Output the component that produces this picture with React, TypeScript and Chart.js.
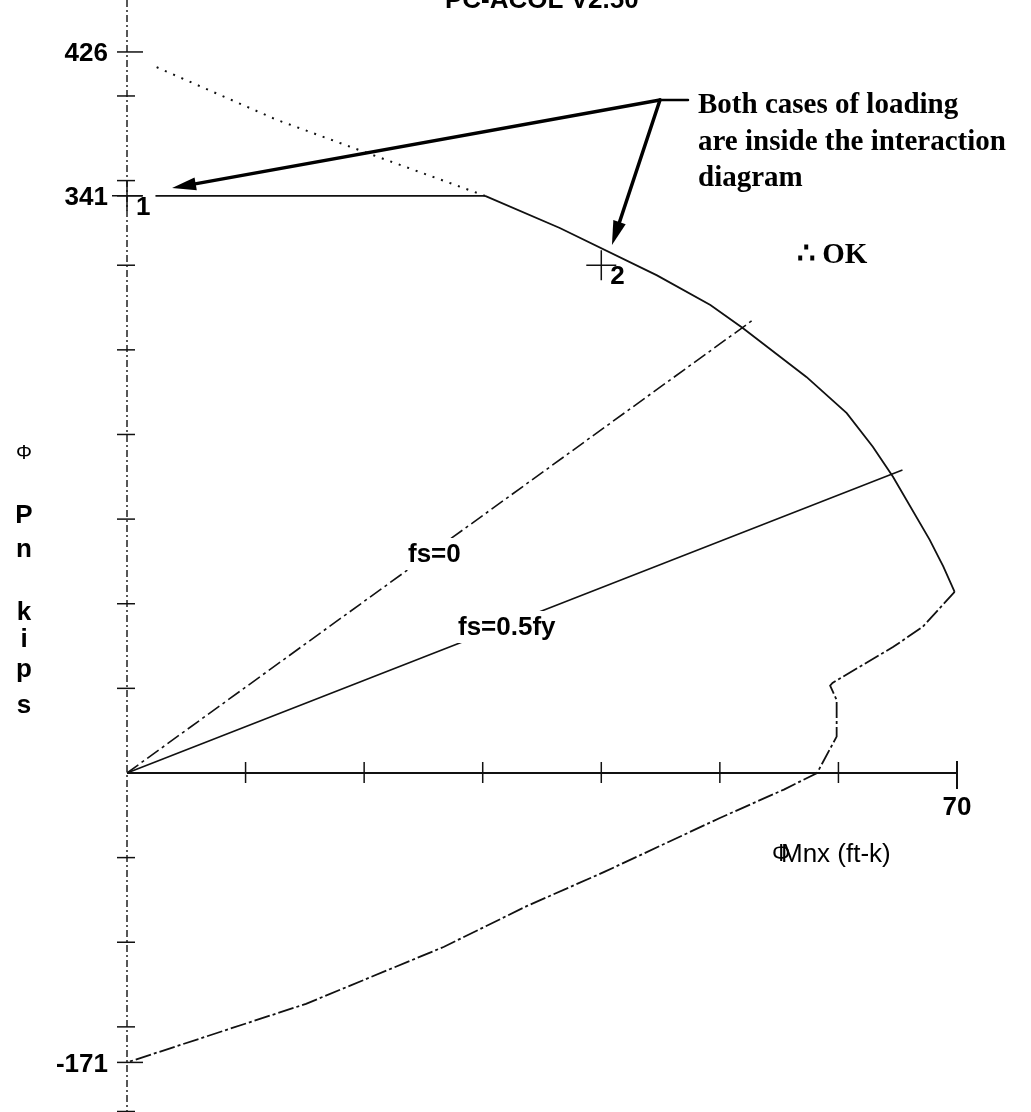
import React, { useEffect, useRef } from "react";
import { Chart, registerables } from "chart.js";

Chart.register(...registerables);

// ---------------- data ----------------
const titleText = "PC-ACOL V2.50";

// dotted Pn,max transition line
const capDottedM = [2.5, 12.6, 19.6, 30.2];
const capDottedP = [417, 386, 368, 341];
// horizontal Pn,max cap
const capLineM = [2.4, 30.2];
const capLineP = [341, 341];
// interaction diagram, upper (compression) branch
const curveUpperM = [30.2, 36.5, 44.7, 49.2, 51.9, 57.3, 60.7, 62.9, 64.6, 67.7, 68.85, 69.8];
const curveUpperP = [341, 322, 294, 276.5, 263, 234, 212.6, 192.8, 175, 137.7, 121.9, 107];
// interaction diagram, lower branch (to pure tension)
const curveLowerM = [69.8, 67.1, 64.6, 59.5, 59.3, 59.85, 59.85, 58.2, 55.4, 50.0, 40.3, 33.7, 26.7, 15.1, 0];
const curveLowerP = [107, 86.3, 74.4, 53.2, 51.6, 43.1, 21.5, 0, -9.8, -26.6, -58.3, -78.7, -102.8, -136.4, -171];
// strain lines
const fs0M = [0, 52.9];
const fs0P = [0, 268.2];
const fs05M = [0, 65.4];
const fs05P = [0, 179];
// load cases
const loadM = [0, 40];
const loadP = [341, 300];
const loadLabels = ["1", "2"];

// axes
const xTicks = [10, 20, 30, 40, 50, 60];
const xLabeledTicks = [70];
const xLabeledText = ["70"];
const yTicks = [-200, -150, -100, -50, 50, 100, 150, 200, 250, 300, 350, 400];
const yLabeledTicks = [426, 341, -171];
const yLabeledText = ["426", "341", "-171"];
const xAxisTitle = "Mnx (ft-k)";
const yAxisLetters = ["P", "n", "k", "i", "p", "s"];
const fsLabels = ["fs=0", "fs=0.5fy"];

// annotation
const noteLines = ["Both cases of loading", "are inside the interaction", "diagram"];
const noteConclusion = "\u2234 OK";
const arrowFromM = 44.95;
const arrowFromP = 397.6;
const arrowToM = [3.8, 40.9];
const arrowToP = [345.6, 312.0];

// ---------------- helpers ----------------
const zip = (m: number[], p: number[]) => m.map((v, i) => ({ x: v, y: p[i] }));
const SANS = '"Liberation Sans", Arial, sans-serif';
const SERIF = '"Liberation Serif", "Times New Roman", serif';
const INK = "#111";

function drawArrow(ctx: CanvasRenderingContext2D, x1: number, y1: number, x2: number, y2: number, headLen: number, headW: number, lw: number) {
  const ang = Math.atan2(y2 - y1, x2 - x1);
  const bx = x2 - headLen * Math.cos(ang);
  const by = y2 - headLen * Math.sin(ang);
  ctx.lineWidth = lw;
  ctx.beginPath();
  ctx.moveTo(x1, y1);
  ctx.lineTo(bx + 2 * Math.cos(ang), by + 2 * Math.sin(ang));
  ctx.stroke();
  ctx.beginPath();
  ctx.moveTo(x2, y2);
  ctx.lineTo(bx + (headW / 2) * Math.sin(ang), by - (headW / 2) * Math.cos(ang));
  ctx.lineTo(bx - (headW / 2) * Math.sin(ang), by + (headW / 2) * Math.cos(ang));
  ctx.closePath();
  ctx.fill();
}

const axesPlugin = {
  id: "axesPlugin",
  beforeDatasetsDraw(chart: any) {
    const { ctx, scales } = chart;
    const x = scales.x;
    const y = scales.y;
    const x0 = x.getPixelForValue(0);
    const y0 = y.getPixelForValue(0);
    ctx.save();
    ctx.strokeStyle = INK;
    ctx.fillStyle = "#000";

    // title (cut by the top edge)
    ctx.font = `bold 26px ${SANS}`;
    ctx.textAlign = "left";
    ctx.textBaseline = "alphabetic";
    ctx.fillText(titleText, 445, 8);

    // vertical axis: dash-dot line over the full height
    ctx.lineWidth = 1.4;
    ctx.setLineDash([7, 3, 2, 3]);
    ctx.beginPath();
    ctx.moveTo(x0, y.getPixelForValue(y.max));
    ctx.lineTo(x0, y.getPixelForValue(y.min));
    ctx.stroke();
    ctx.setLineDash([]);

    // horizontal axis
    const xEnd = x.getPixelForValue(xLabeledTicks[xLabeledTicks.length - 1]);
    ctx.lineWidth = 2.2;
    ctx.beginPath();
    ctx.moveTo(x0, y0);
    ctx.lineTo(xEnd, y0);
    ctx.stroke();

    // y ticks
    ctx.lineWidth = 1.5;
    yTicks.forEach((v) => {
      const py = y.getPixelForValue(v);
      ctx.beginPath();
      ctx.moveTo(x0 - 10, py);
      ctx.lineTo(x0 + 8, py);
      ctx.stroke();
    });
    ctx.font = `bold 26px ${SANS}`;
    ctx.textAlign = "right";
    yLabeledTicks.forEach((v, i) => {
      const py = y.getPixelForValue(v);
      ctx.beginPath();
      ctx.moveTo(x0 - 10, py);
      ctx.lineTo(x0 + 16, py);
      ctx.stroke();
      ctx.fillText(yLabeledText[i], x0 - 19, py + 9.5);
    });

    // x ticks
    xTicks.forEach((v) => {
      const px = x.getPixelForValue(v);
      ctx.beginPath();
      ctx.moveTo(px, y0 - 11);
      ctx.lineTo(px, y0 + 10);
      ctx.stroke();
    });
    ctx.textAlign = "center";
    xLabeledTicks.forEach((v, i) => {
      const px = x.getPixelForValue(v);
      ctx.lineWidth = 2;
      ctx.beginPath();
      ctx.moveTo(px, y0 - 12);
      ctx.lineTo(px, y0 + 16);
      ctx.stroke();
      ctx.fillText(xLabeledText[i], px, y0 + 42);
    });

    // x-axis title (phi overlapping the M, as in the scan)
    ctx.textAlign = "left";
    ctx.font = `26px ${SANS}`;
    ctx.fillText(xAxisTitle, 781, 862);
    ctx.font = `23px ${SANS}`;
    ctx.fillText("\u03A6", 772, 861);

    // y-axis title (stacked letters)
    ctx.textAlign = "center";
    ctx.font = `20px ${SANS}`;
    ctx.fillText("\u03A6", 24, 459);
    ctx.font = `bold 26px ${SANS}`;
    const letterBase = [523, 557, 620, 647, 677, 713];
    yAxisLetters.forEach((t, i) => ctx.fillText(t, 24, letterBase[i]));
    ctx.restore();
  },
  afterDatasetsDraw(chart: any) {
    const { ctx, scales } = chart;
    const x = scales.x;
    const y = scales.y;
    ctx.save();
    ctx.fillStyle = "#000";
    ctx.strokeStyle = "#000";

    // strain-line labels with white gaps
    ctx.font = `bold 26px ${SANS}`;
    ctx.textAlign = "left";
    ctx.textBaseline = "alphabetic";
    const fsPos = [
      [408, 562],
      [458, 635],
    ];
    fsLabels.forEach((t, i) => {
      const w = ctx.measureText(t).width;
      const [lx, ly] = fsPos[i];
      ctx.fillStyle = "#fff";
      ctx.fillRect(lx - 9, ly - 24, w + 18, 32);
      ctx.fillStyle = "#000";
      ctx.fillText(t, lx, ly);
    });

    // load labels
    loadLabels.forEach((t, i) => {
      const px = x.getPixelForValue(loadM[i]);
      const py = y.getPixelForValue(loadP[i]);
      ctx.fillText(t, px + 9, py + 19);
    });

    // arrows
    const ax = x.getPixelForValue(arrowFromM);
    const ay = y.getPixelForValue(arrowFromP);
    ctx.lineCap = "round";
    arrowToM.forEach((m, i) => {
      drawArrow(ctx, ax, ay, x.getPixelForValue(m), y.getPixelForValue(arrowToP[i]), 24, 13, 3.5);
    });
    ctx.lineWidth = 2.5;
    ctx.beginPath();
    ctx.moveTo(ax, ay);
    ctx.lineTo(ax + 28, ay);
    ctx.stroke();

    // note text
    ctx.font = `bold 29px ${SERIF}`;
    ctx.textAlign = "left";
    noteLines.forEach((t, i) => ctx.fillText(t, 698, 113 + i * 36.7));
    ctx.fillText(noteConclusion, 797, 263);
    ctx.restore();
  },
};

export default function App() {
  const ref = useRef<HTMLCanvasElement>(null);
  useEffect(() => {
    const line = (data: any, dash: number[], width: number) => ({
      data,
      showLine: true,
      borderColor: INK,
      borderWidth: width,
      borderDash: dash,
      pointRadius: 0,
      fill: false,
      tension: 0,
      clip: false,
    });
    const chart = new Chart(ref.current!, {
      type: "scatter",
      data: {
        datasets: [
          line(zip(capDottedM, capDottedP), [2, 7], 2),
          line(zip(capLineM, capLineP), [], 1.8),
          line(zip(curveUpperM, curveUpperP), [], 1.8),
          line(zip(curveLowerM, curveLowerP), [16, 3, 3, 3], 1.8),
          line(zip(fs0M, fs0P), [14, 4, 3, 4], 1.6),
          line(zip(fs05M, fs05P), [], 1.6),
          {
            data: zip(loadM, loadP),
            showLine: false,
            pointStyle: "cross",
            pointRadius: 15,
            borderColor: INK,
            borderWidth: 1.5,
            backgroundColor: INK,
            clip: false,
          } as any,
        ],
      },
      options: {
        responsive: false,
        maintainAspectRatio: false,
        animation: false,
        layout: { autoPadding: false, padding: { left: 127, right: 74, top: 0, bottom: 0 } },
        scales: {
          x: { type: "linear", min: 0, max: 70, display: false },
          y: { type: "linear", min: -200.3, max: 456.7, display: false },
        },
        plugins: {
          legend: { display: false },
          tooltip: { enabled: false },
        },
        events: [],
      } as any,
      plugins: [axesPlugin as any],
    });
    return () => chart.destroy();
  }, []);
  return (
    <canvas
      ref={ref}
      width={1031}
      height={1112}
      style={{ position: "absolute", left: 0, top: 0, display: "block", background: "#fff" }}
    />
  );
}
